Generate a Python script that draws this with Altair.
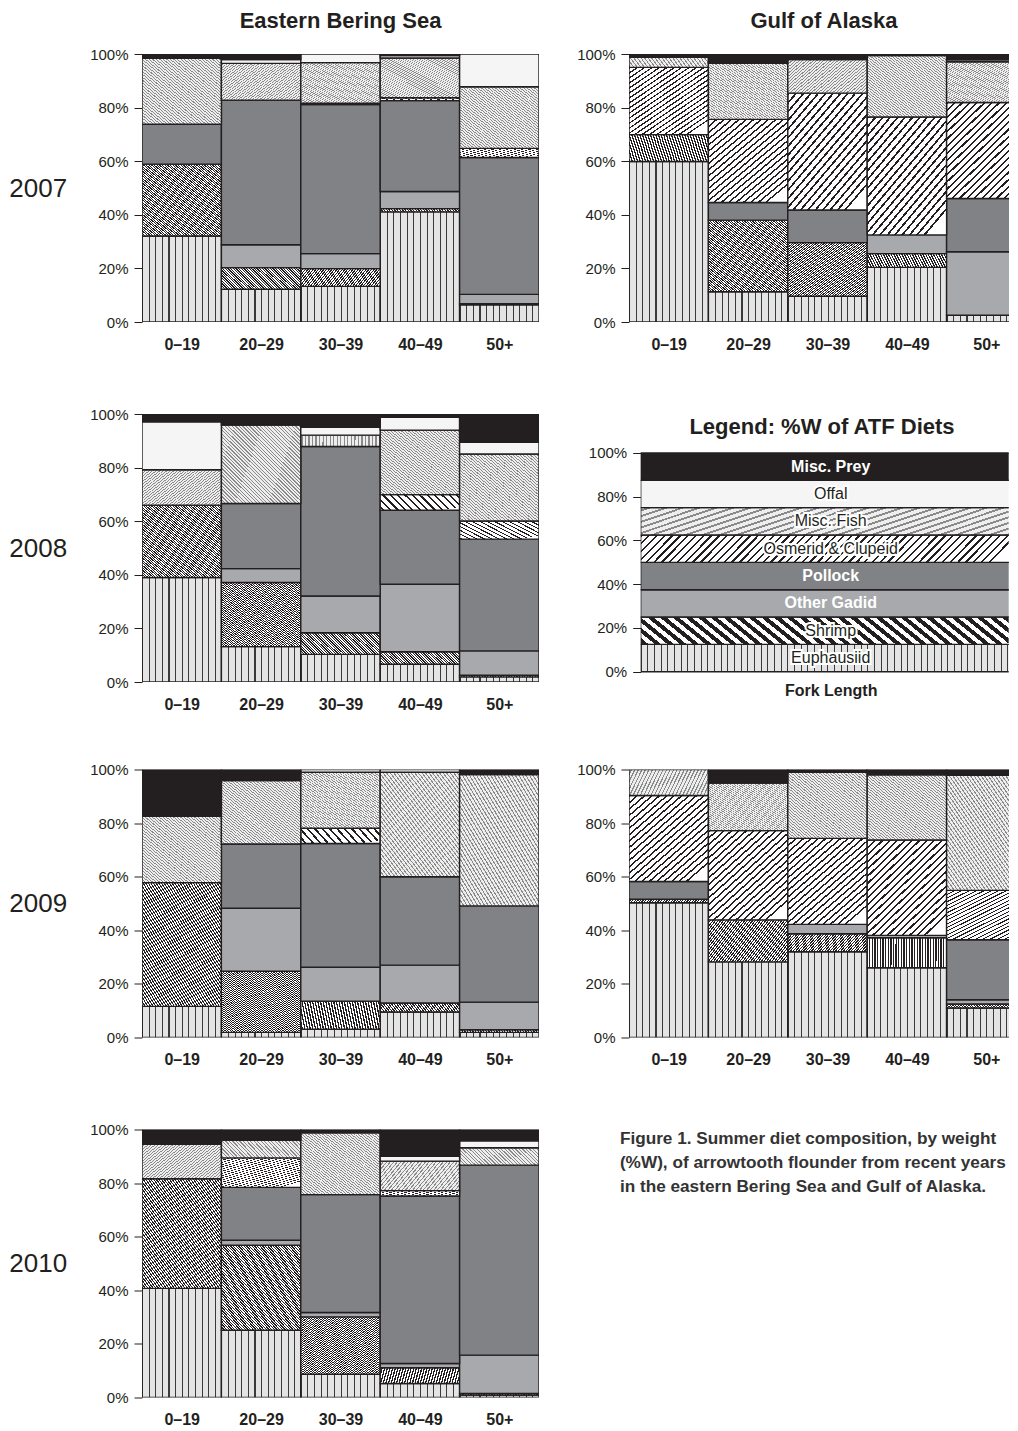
import json
import altair as alt
import pandas as pd

INK = "#231f20"
FONT = "Liberation Sans"

SIZES = ["0–19", "20–29", "30–39", "40–49", "50+"]
PREY = ["Euphausiid", "Shrimp", "Other Gadid", "Pollock",
        "Osmerid & Clupeid", "Misc. Fish", "Offal", "Misc. Prey"]
TICKS = [0, 20, 40, 60, 80, 100]

# %W per prey group, one value per fork-length class (0–19, 20–29, 30–39, 40–49, 50+)
EBS_2007 = {
    "Euphausiid":        [32.1, 12.2, 13.3, 41.1, 6.4],
    "Shrimp":            [26.8, 8.1, 6.6, 1.2, 0.4],
    "Other Gadid":       [0.0, 8.5, 5.6, 6.4, 3.5],
    "Pollock":           [14.9, 54.0, 55.6, 33.9, 51.1],
    "Osmerid & Clupeid": [0.0, 0.0, 0.5, 1.1, 3.4],
    "Misc. Fish":        [24.6, 13.7, 15.2, 14.8, 23.0],
    "Offal":             [0.0, 1.4, 3.2, 0.9, 12.2],
    "Misc. Prey":        [1.6, 2.1, 0.0, 0.6, 0.0],
}
GOA_2007 = {
    "Euphausiid":        [59.9, 11.3, 9.6, 20.4, 2.5],
    "Shrimp":            [10.0, 26.7, 20.0, 5.1, 0.0],
    "Other Gadid":       [0.0, 0.0, 0.0, 7.0, 23.7],
    "Pollock":           [0.0, 6.6, 12.2, 0.0, 19.9],
    "Osmerid & Clupeid": [25.1, 31.0, 43.6, 44.0, 35.8],
    "Misc. Fish":        [3.8, 20.9, 12.5, 22.9, 15.2],
    "Offal":             [0.0, 0.0, 0.0, 0.0, 0.7],
    "Misc. Prey":        [1.2, 3.5, 2.1, 0.6, 2.2],
}
EBS_2008 = {
    "Euphausiid":        [39.0, 13.2, 10.3, 6.6, 1.9],
    "Shrimp":            [27.0, 23.9, 8.1, 4.7, 0.6],
    "Other Gadid":       [0.0, 5.2, 13.7, 25.2, 9.1],
    "Pollock":           [0.0, 24.3, 55.8, 27.6, 41.7],
    "Osmerid & Clupeid": [0.0, 0.0, 0.0, 5.8, 6.8],
    "Misc. Fish":        [13.2, 29.3, 4.2, 24.1, 25.0],
    "Offal":             [17.9, 0.0, 2.9, 4.8, 4.3],
    "Misc. Prey":        [2.9, 4.1, 5.0, 1.2, 10.6],
}
EBS_2009 = {
    "Euphausiid":        [11.6, 1.9, 3.1, 9.5, 1.9],
    "Shrimp":            [46.2, 22.8, 10.4, 3.4, 1.0],
    "Other Gadid":       [0.0, 23.5, 12.7, 14.1, 10.3],
    "Pollock":           [0.0, 24.0, 46.2, 33.0, 35.9],
    "Osmerid & Clupeid": [0.0, 0.0, 5.7, 0.0, 0.0],
    "Misc. Fish":        [24.7, 23.7, 20.9, 39.0, 49.0],
    "Offal":             [0.0, 0.0, 1.0, 1.0, 0.0],
    "Misc. Prey":        [17.5, 4.1, 0.0, 0.0, 1.9],
}
GOA_2009 = {
    "Euphausiid":        [50.3, 28.2, 32.0, 26.0, 11.0],
    "Shrimp":            [1.3, 15.7, 6.7, 11.2, 1.5],
    "Other Gadid":       [0.0, 0.0, 3.5, 0.9, 1.6],
    "Pollock":           [6.6, 0.0, 0.0, 0.0, 22.4],
    "Osmerid & Clupeid": [32.1, 33.3, 32.1, 35.6, 18.4],
    "Misc. Fish":        [9.7, 17.7, 24.7, 24.3, 42.9],
    "Offal":             [0.0, 0.0, 0.0, 0.0, 0.0],
    "Misc. Prey":        [0.0, 5.1, 1.0, 2.0, 2.2],
}
EBS_2010 = {
    "Euphausiid":        [40.7, 25.1, 8.7, 5.2, 0.9],
    "Shrimp":            [40.9, 31.7, 21.4, 5.9, 0.6],
    "Other Gadid":       [0.0, 1.9, 1.6, 1.6, 14.3],
    "Pollock":           [0.0, 19.7, 44.0, 62.5, 70.9],
    "Osmerid & Clupeid": [0.0, 11.0, 0.0, 2.0, 0.0],
    "Misc. Fish":        [12.9, 6.6, 23.1, 11.0, 6.5],
    "Offal":             [0.0, 0.0, 0.0, 1.8, 2.6],
    "Misc. Prey":        [5.5, 4.0, 1.2, 10.0, 4.2],
}
LEGEND_PCT = [12.5, 12.5, 12.5, 12.5, 12.5, 12.5, 12.5, 12.5]
LEGEND_TITLE = "Legend: %W of ATF Diets"
LEGEND_AXIS = "Fork Length"
WHITE_LABELS = ["Misc. Prey", "Pollock", "Other Gadid"]
CAPTION_LINES = [
    "Figure 1. Summer diet composition, by weight",
    "(%W), of arrowtooth flounder from recent years",
    "in the eastern Bering Sea and Gulf of Alaska.",
]

BAR_W = 79.4          # pixel width of one fork-length column
EBS_W = 397           # 5 columns
GOA_W = 380           # last column cut by the page edge, as in the original
LEG_FULL = 380
LEG_W = 368
PANEL_H = 268


def stripes(n, frac, fg, bg, x1, y1, x2, y2):
    stops = []
    for i in range(n):
        a, b, c = i / n, (i + frac) / n, (i + 1) / n
        stops += [{"offset": a, "color": fg}, {"offset": b, "color": fg},
                  {"offset": b, "color": bg}, {"offset": c, "color": bg}]
    return {"gradient": "linear", "x1": x1, "y1": y1, "x2": x2, "y2": y2,
            "stops": stops}


def fills(grid_n, hatch):
    return {
        "Euphausiid": stripes(grid_n, 0.16, "#3a3a3a", "#e4e4e4", 0, 0, 1, 0),
        "Shrimp": stripes(60, 0.5, INK, "#ffffff", 0, 1, 1, 0),
        "Other Gadid": "#a7a9ac",
        "Pollock": "#808285",
        "Osmerid & Clupeid": hatch,
        "Misc. Fish": stripes(45, 0.35, "#8a8a8a", "#eeeeee", 0, 1, 1, 0),
        "Offal": "#f5f5f5",
        "Misc. Prey": INK,
    }


PANEL_FILLS = fills(12, stripes(22, 0.3, INK, "#ffffff", 0, 0, 0.8, 1))
LEGEND_FILLS = fills(57, stripes(49, 0.3, INK, "#ffffff", 0, 0, 1, 0.071))


def fill_enc(f):
    conds = [{"test": "datum.prey === '%s'" % p, "value": f[p]} for p in PREY[:-1]]
    return alt.value(f["Misc. Prey"], condition=conds)


def long_df(values):
    rows = []
    for rank, p in enumerate(PREY):
        for idx, v in enumerate(values[p]):
            rows.append({"idx": idx, "prey": p, "pct": v, "rank": rank})
    return pd.DataFrame(rows)


def y_axis(year=None):
    kw = dict(values=TICKS, labelExpr="datum.value + '%'", labelFontSize=15,
              labelPadding=6, tickSize=8, tickWidth=1, domain=False, grid=False)
    if year:
        kw.update(title=year, titleAngle=0, titleFontSize=26, titleFontWeight="normal",
                  titleAlign="right", titleBaseline="middle", titlePadding=23)
    else:
        kw.update(title=None)
    return alt.Axis(**kw)


X_LABELS = "%s[floor(datum.value)]" % json.dumps(SIZES, ensure_ascii=False)


def panel(values, width, title=None, year=None, title_dx=0):
    base = alt.Chart(long_df(values)).transform_filter("datum.pct > 0").transform_stack(
        stack="pct", groupby=["idx"], as_=["lo", "hi"], sort=[alt.SortField("rank")]
    ).transform_calculate(idx2="datum.idx + 1")
    ch = base.mark_rect(stroke=INK, strokeWidth=1.4, clip=True).encode(
        x=alt.X("idx:Q", scale=alt.Scale(domain=[0, width / BAR_W], nice=False, zero=False),
                axis=alt.Axis(title=None, values=[i + 0.5 for i in range(len(SIZES))],
                              labelExpr=X_LABELS, labelAngle=0, ticks=False, domain=False,
                              grid=False, labelFlush=False, labelOverlap=False,
                              labelFontSize=16, labelFontWeight="bold", labelPadding=14)),
        x2="idx2:Q",
        y=alt.Y("lo:Q", scale=alt.Scale(domain=[0, 100], nice=False), axis=y_axis(year)),
        y2="hi:Q",
        fill=fill_enc(PANEL_FILLS),
    ).properties(width=width, height=PANEL_H)
    if title:
        ch = ch.properties(title=alt.TitleParams(title, fontSize=22, fontWeight="bold",
                                                 font=FONT, color=INK, offset=13.7,
                                                 dx=title_dx))
    return ch


# legend panel
leg_df = pd.DataFrame({"prey": PREY, "pct": LEGEND_PCT, "rank": list(range(8)),
                       "idx": [0] * 8})
LEG_Y = alt.Scale(domain=[-4.71, 117.83], nice=False, zero=False)
LEG_X = alt.Scale(domain=[0, LEG_W / LEG_FULL], nice=False, zero=False)
leg_base = alt.Chart(leg_df).transform_stack(
    stack="pct", groupby=["idx"], as_=["lo", "hi"], sort=[alt.SortField("rank")]
).transform_calculate(mid="(datum.lo + datum.hi) / 2", idx2="datum.idx + 1",
                      xc="datum.idx + 0.5")
leg_x_axis = alt.Axis(title=LEGEND_AXIS, labels=False, ticks=False, domain=False, grid=False,
                      titleFontSize=16, titleFontWeight="bold", titlePadding=0,
                      titleX=LEG_FULL / 2, titleAlign="center")
leg_bars = leg_base.mark_rect(stroke=INK, strokeWidth=1.4, clip=True).encode(
    x=alt.X("idx:Q", scale=LEG_X, axis=leg_x_axis),
    x2="idx2:Q",
    y=alt.Y("lo:Q", scale=LEG_Y, axis=y_axis()),
    y2="hi:Q",
    fill=fill_enc(LEGEND_FILLS),
)
is_white = " || ".join("datum.prey === '%s'" % p for p in WHITE_LABELS)


def leg_text(filt, **mk):
    return leg_base.transform_filter(filt).mark_text(
        font=FONT, fontSize=16, baseline="middle", align="center", **mk
    ).encode(x=alt.X("xc:Q", scale=LEG_X, axis=leg_x_axis),
             y=alt.Y("mid:Q", scale=LEG_Y, axis=y_axis()), text="prey:N")


leg_txt_w = leg_text(is_white, fontWeight="bold", color="#ffffff")
leg_halo = leg_text("!(%s)" % is_white, fontWeight="normal", color="#ffffff",
                    stroke="#ffffff", strokeWidth=4)
leg_txt_d = leg_text("!(%s)" % is_white, fontWeight="normal", color=INK)
leg_title = alt.Chart(pd.DataFrame({"t": [LEGEND_TITLE]})).mark_text(
    font=FONT, fontSize=22, fontWeight="bold", color=INK, baseline="middle", align="center"
).encode(x=alt.value(181.3), y=alt.value(12.7), text="t:N")
legend = alt.layer(leg_bars, leg_txt_w, leg_halo, leg_txt_d, leg_title).properties(
    width=LEG_W, height=PANEL_H)

caption = alt.Chart(pd.DataFrame({"c": ["\n".join(CAPTION_LINES)]})).mark_text(
    font=FONT, fontSize=17.2, fontWeight="bold", color="#333333", align="left",
    baseline="top", lineBreak="\n", lineHeight=24
).encode(x=alt.value(0), y=alt.value(0), text="c:N").properties(width=380, height=PANEL_H)

row1 = alt.hconcat(panel(EBS_2007, EBS_W, "Eastern Bering Sea", "2007"),
                   panel(GOA_2007, GOA_W, "Gulf of Alaska", title_dx=5), spacing=37.0)
row2 = alt.hconcat(panel(EBS_2008, EBS_W, year="2008"), legend, spacing=48.7)
row3 = alt.hconcat(panel(EBS_2009, EBS_W, year="2009"), panel(GOA_2009, GOA_W), spacing=37.0)
row4 = alt.hconcat(panel(EBS_2010, EBS_W, year="2010"), caption, spacing=80.9)

chart = alt.vconcat(
    alt.vconcat(row1, row2, spacing=55),
    alt.vconcat(row3, row4, spacing=55),
    spacing=50.5,
).properties(
    padding={"top": 2, "left": 0, "right": 0, "bottom": 0}
).configure_view(
    stroke=None
).configure_axis(
    labelFont=FONT, titleFont=FONT, labelColor=INK, titleColor=INK, tickColor=INK
)

chart.save("out.html", embed_options={"renderer": "svg", "actions": False})
